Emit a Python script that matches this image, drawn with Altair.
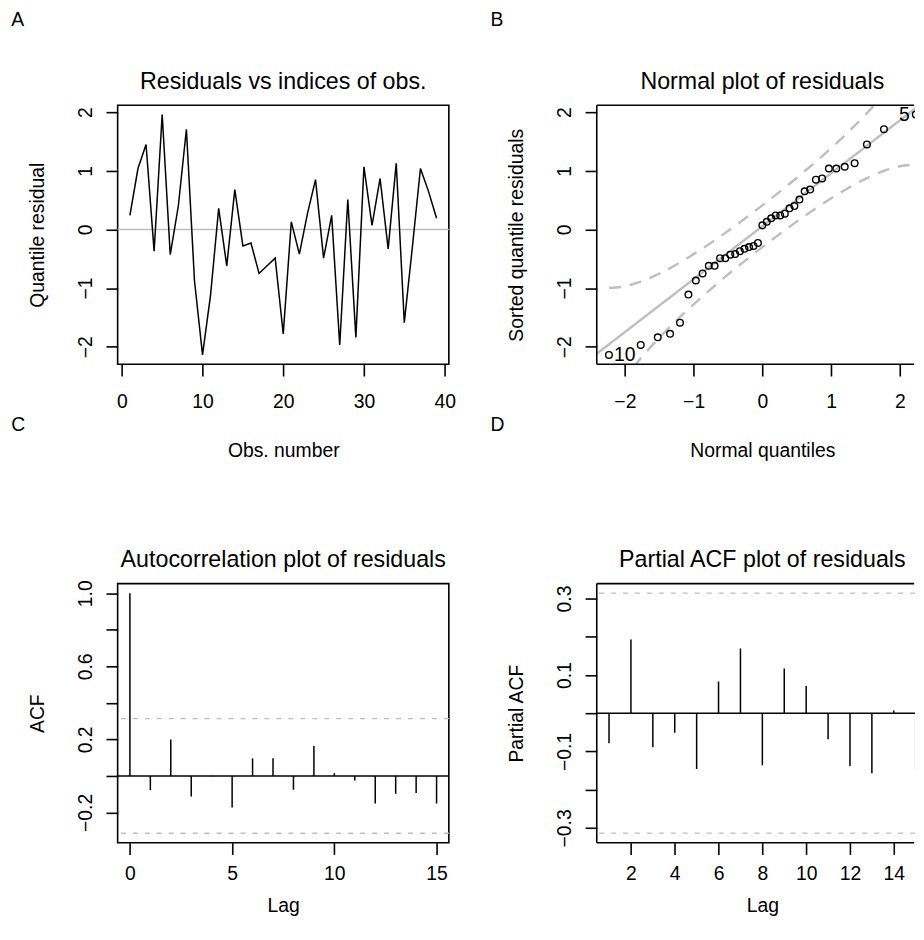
import altair as alt
import pandas as pd

# ---------------- data ----------------
obs = list(range(1, 40))
resid = [0.24, 1.04, 1.45, -0.37, 1.96, -0.43, 0.40, 1.71, -0.87, -2.14,
         -1.11, 0.36, -0.62, 0.68, -0.28, -0.23, -0.75, -0.62, -0.49, -1.78,
         0.13, -0.42, 0.27, 0.85, -0.49, 0.24, -1.97, 0.51, -1.84, 1.07,
         0.07, 0.87, -0.33, 1.13, -1.59, -0.30, 1.04, 0.65, 0.19]

# reference line and pointwise envelope of the normal plot
ref_x = [-2.42, 2.42]
ref_y = [-2.13, 2.24]
env_z = [-2.231, -2.0, -1.768, -1.5, -1.2, -0.9, -0.6, -0.3, 0.0,
         0.3, 0.6, 0.9, 1.2, 1.5, 1.768, 2.0, 2.231]
env_upper = [-0.997, -0.969, -0.890, -0.754, -0.564, -0.345, -0.108, 0.145, 0.411,
             0.688, 0.977, 1.282, 1.606, 1.958, 2.306, 2.647, 3.036]
env_lower = [-2.926, -2.537, -2.196, -1.848, -1.496, -1.172, -0.867, -0.578, -0.301,
             -0.035, 0.218, 0.455, 0.674, 0.864, 1.000, 1.079, 1.107]

acf_lag = list(range(0, 16))
acf_val = [1.0, -0.078, 0.20, -0.113, -0.002, -0.173, 0.096, 0.096, -0.076,
           0.164, 0.015, -0.025, -0.151, -0.098, -0.093, -0.151]
pacf_lag = list(range(1, 16))
pacf_val = [-0.079, 0.193, -0.089, -0.051, -0.146, 0.083, 0.169, -0.136,
            0.117, 0.071, -0.068, -0.138, -0.157, 0.007, -0.148]
ci_band = [0.314, -0.314]

# ---------------- styling ----------------
FONT = "Liberation Sans"
W, H = 332.3, 260          # full plot box (left column)
WR = 319.3                 # visible part of the right column (cut by the page edge)
LBL = 19.4
TTL = 23.3
GREY = "#BEBEBE"
TICK = 11.7


def yaxis(title, values, expr=None, fmt=None):
    kw = dict(title=title, values=values, grid=False, domain=False,
              tickSize=TICK, tickWidth=1.6, tickColor="black",
              labelAngle=270, labelAlign="center", labelBaseline="alphabetic",
              labelPadding=15, labelFontSize=LBL, labelFont=FONT, labelColor="black",
              labelOverlap=False, labelFlush=False, labelBound=False,
              titleAngle=270, titleAlign="center", titleBaseline="alphabetic",
              titleX=-74, titleY=H / 2, titleFontSize=LBL, titleFont=FONT,
              titleFontWeight="normal", titleColor="black")
    if expr:
        kw["labelExpr"] = expr
    if fmt:
        kw["format"] = fmt
    return alt.Axis(**kw)


def xaxis(title, values, lpad=31.3, ty=92.3):
    return alt.Axis(title=title, values=values, grid=False, domain=False,
                    tickSize=TICK, tickWidth=1.6, tickColor="black",
                    labelAngle=0, labelAlign="center", labelBaseline="alphabetic",
                    labelPadding=lpad, labelFontSize=LBL, labelFont=FONT, labelColor="black",
                    labelOverlap=False, labelFlush=False, labelBound=False,
                    titleAlign="center", titleBaseline="alphabetic",
                    titleX=W / 2, titleY=ty, titleFontSize=LBL, titleFont=FONT,
                    titleFontWeight="normal", titleColor="black")


def sc(dom):
    return alt.Scale(domain=dom, nice=False, zero=False)


def label_layers(letter, title, lx, ly, ty):
    letter_l = alt.Chart(pd.DataFrame({"t": [letter]})).mark_text(
        align="left", baseline="alphabetic", font=FONT, fontSize=LBL, color="black"
    ).encode(x=alt.value(lx), y=alt.value(ly), text="t:N")
    title_l = alt.Chart(pd.DataFrame({"t": [title]})).mark_text(
        align="center", baseline="alphabetic", font=FONT, fontSize=TTL, color="black"
    ).encode(x=alt.value(W / 2), y=alt.value(ty), text="t:N")
    return [letter_l, title_l]


def open_frame():
    """top, left and bottom sides of a plot box whose right side is off the page"""
    d = pd.DataFrame({"k": [0]})
    top = alt.Chart(d).mark_rule(color="black", strokeWidth=1.6).encode(
        x=alt.value(0), x2=alt.value(WR - 0.9), y=alt.value(0))
    bot = alt.Chart(d).mark_rule(color="black", strokeWidth=1.6).encode(
        x=alt.value(0), x2=alt.value(WR - 0.9), y=alt.value(H))
    left = alt.Chart(d).mark_rule(color="black", strokeWidth=1.6).encode(
        x=alt.value(0), y=alt.value(0), y2=alt.value(H))
    return [top, bot, left]


# ---------------- panel A ----------------
dfA = pd.DataFrame({"obs": obs, "resid": resid})
xA = [-0.52, 40.52]
yA = [-2.30, 2.12]
axAx = xaxis("Obs. number", [0, 10, 20, 30, 40])
axAy = yaxis("Quantile residual", [-2, -1, 0, 1, 2])

anchor = alt.Chart(pd.DataFrame({"a": [0]})).mark_rect(opacity=0).encode(
    x=alt.value(-108.7), x2=alt.value(-100), y=alt.value(-95), y2=alt.value(-90))

zeroA = alt.Chart(pd.DataFrame({"v": [0.0]})).mark_rule(color=GREY, strokeWidth=1.4).encode(
    y=alt.Y("v:Q", scale=sc(yA), axis=axAy))
lineA = alt.Chart(dfA).mark_line(color="black", strokeWidth=1.5).encode(
    x=alt.X("obs:Q", scale=sc(xA), axis=axAx),
    y=alt.Y("resid:Q", scale=sc(yA), axis=axAy))
panelA = alt.layer(anchor, zeroA, lineA,
                   *label_layers("A", "Residuals vs indices of obs.", -106.7, -79, -16.5)
                   ).properties(width=W, height=H)

# ---------------- panel B ----------------
pxB = W / 4.818
xB = [-2.409, -2.409 + WR / pxB]
n = len(resid)
axBx = xaxis("Normal quantiles", [-2, -1, 0, 1, 2])
axBy = yaxis("Sorted quantile residuals", [-2, -1, 0, 1, 2])
baseB = alt.Chart(dfA).transform_window(
    rank="row_number()", sort=[alt.SortField("resid", order="ascending")]
).transform_calculate(z=f"quantileNormal((datum.rank - 0.5) / {n})")

refB = alt.Chart(pd.DataFrame({"x": ref_x, "y": ref_y})).mark_line(
    color=GREY, strokeWidth=2.4, clip=True).encode(
    x=alt.X("x:Q", scale=sc(xB), axis=axBx), y=alt.Y("y:Q", scale=sc(yA), axis=axBy))
envB = alt.Chart(pd.DataFrame({"z": env_z + env_z,
                               "e": env_upper + env_lower,
                               "side": ["upper"] * len(env_z) + ["lower"] * len(env_z)})
                 ).mark_line(color=GREY, strokeWidth=2.4, strokeDash=[12, 9],
                             interpolate="monotone", clip=True).encode(
    x=alt.X("z:Q", scale=sc(xB), axis=axBx), y=alt.Y("e:Q", scale=sc(yA), axis=axBy),
    detail="side:N")
ptsB = baseB.mark_point(shape="circle", filled=False, color="black", size=44,
                        strokeWidth=1.4, opacity=1, clip=True).encode(
    x=alt.X("z:Q", scale=sc(xB), axis=axBx),
    y=alt.Y("resid:Q", scale=sc(yA), axis=axBy))
lowB = baseB.transform_filter("datum.rank == 1").mark_text(
    align="left", baseline="middle", dx=5, font=FONT, fontSize=LBL, color="black").encode(
    x=alt.X("z:Q", scale=sc(xB), axis=axBx), y=alt.Y("resid:Q", scale=sc(yA), axis=axBy),
    text="obs:N")
highB = baseB.transform_filter(f"datum.rank == {n}").mark_text(
    align="right", baseline="middle", dx=-6, font=FONT, fontSize=LBL, color="black").encode(
    x=alt.X("z:Q", scale=sc(xB), axis=axBx), y=alt.Y("resid:Q", scale=sc(yA), axis=axBy),
    text="obs:N")
panelB = alt.layer(refB, envB, ptsB, lowB, highB, *open_frame(),
                   *label_layers("B", "Normal plot of residuals", -106.7, -79, -16.5)
                   ).properties(width=WR, height=H,
                                view=alt.ViewBackground(strokeOpacity=0, strokeWidth=0))

# ---------------- panel C ----------------
dfC = pd.DataFrame({"lag": acf_lag, "acf": acf_val})
xC = [-0.6, 15.6]
yC = [-0.366, 1.053]
axCx = xaxis("Lag", [0, 5, 10, 15], lpad=25.3, ty=68.7)
axCy = yaxis("ACF", [-0.2, 0, 0.2, 0.4, 0.6, 0.8, 1.0],
             expr="(abs(round(datum.value*10)) == 10 || abs(round(datum.value*10)) == 6 || abs(round(datum.value*10)) == 2) ? datum.label : ''",
             fmt=".1f")
ciC = alt.Chart(pd.DataFrame({"c": ci_band})).mark_rule(
    color=GREY, strokeWidth=1.3, strokeDash=[5, 7]).encode(
    y=alt.Y("c:Q", scale=sc(yC), axis=axCy))
zeroC = alt.Chart(pd.DataFrame({"v": [0.0]})).mark_rule(color="black", strokeWidth=1.5).encode(
    y=alt.Y("v:Q", scale=sc(yC), axis=axCy))
barsC = alt.Chart(dfC).mark_rule(color="black", strokeWidth=1.5).encode(
    x=alt.X("lag:Q", scale=sc(xC), axis=axCx),
    y=alt.Y("acf:Q", scale=sc(yC), axis=axCy),
    y2=alt.datum(0))
panelC = alt.layer(ciC, zeroC, barsC,
                   *label_layers("C", "Autocorrelation plot of residuals", -106.7, -153.5, -16.5)
                   ).properties(width=W, height=H)

# ---------------- panel D ----------------
dfD = pd.DataFrame({"lag": pacf_lag, "pacf": pacf_val})
pxD = W / 15.12
xD = [0.44, 0.44 + WR / pxD]
yD = [-0.339, 0.339]
axDx = xaxis("Lag", [2, 4, 6, 8, 10, 12, 14], lpad=25.3, ty=68.7)
axDy = yaxis("Partial ACF", [-0.3, -0.2, -0.1, 0, 0.1, 0.2, 0.3],
             expr="abs(round(datum.value*10)) % 2 == 1 ? datum.label : ''", fmt=".1f")
ciD = alt.Chart(pd.DataFrame({"c": ci_band})).mark_rule(
    color=GREY, strokeWidth=1.3, strokeDash=[5, 7]).encode(
    y=alt.Y("c:Q", scale=sc(yD), axis=axDy))
zeroD = alt.Chart(pd.DataFrame({"v": [0.0]})).mark_rule(color="black", strokeWidth=1.5).encode(
    y=alt.Y("v:Q", scale=sc(yD), axis=axDy))
barsD = alt.Chart(dfD).mark_rule(color="black", strokeWidth=1.5, clip=True).encode(
    x=alt.X("lag:Q", scale=sc(xD), axis=axDx),
    y=alt.Y("pacf:Q", scale=sc(yD), axis=axDy),
    y2=alt.datum(0))
panelD = alt.layer(ciD, zeroD, barsD, *open_frame(),
                   *label_layers("D", "Partial ACF plot of residuals", -106.7, -153.5, -16.5)
                   ).properties(width=WR, height=H,
                                view=alt.ViewBackground(strokeOpacity=0, strokeWidth=0))

chart = alt.concat(
    panelA, panelB, panelC, panelD, columns=2, bounds="flush",
    spacing=alt.RowColnumber(row=220, column=147.7)
).properties(padding=0, background="white").configure_view(
    stroke="black", strokeWidth=1.6
)

chart.save("out.html", embed_options={"renderer": "svg", "actions": False})
